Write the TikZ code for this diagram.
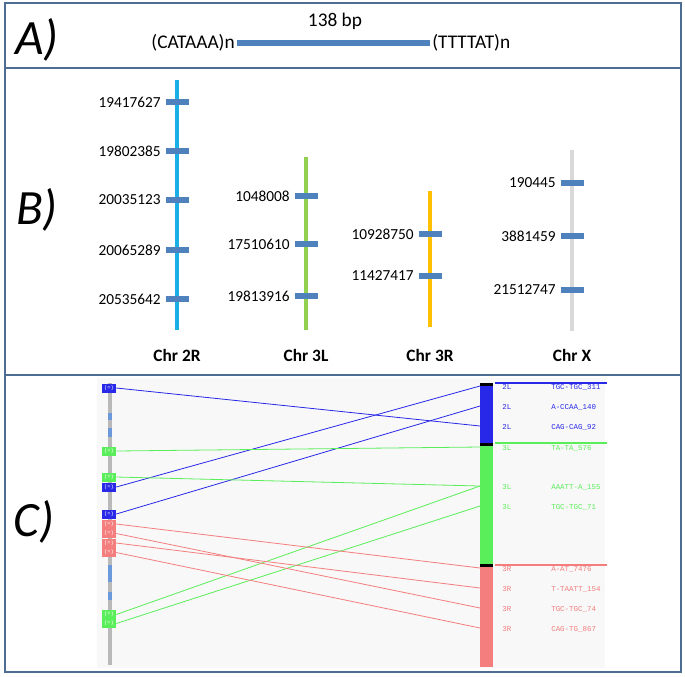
\documentclass[tikz,border=0pt]{standalone}
\usepackage{fontspec}
\setmainfont{Carlito}
\setmonofont{Liberation Mono}
\definecolor{frameblue}{HTML}{4F6D93}
\definecolor{tickblue}{HTML}{4F81BD}
\definecolor{chrcyan}{HTML}{1AAFE6}
\definecolor{chrgreen}{HTML}{92D050}
\definecolor{chrorange}{HTML}{FFC000}
\definecolor{chrgray}{HTML}{D9D9D9}
\definecolor{mapblue}{HTML}{2828E8}
\definecolor{mapgreen}{HTML}{5AEE5A}
\definecolor{mapred}{HTML}{F47E7E}
\definecolor{mapbg}{HTML}{F8F8F8}
\definecolor{dashblue}{HTML}{6C98DC}
\tikzset{
  panellabel/.style={font=\fontsize{37}{37}\selectfont\itshape},
  mapbox/.style={minimum width=10.5pt, minimum height=6.75pt, text=white, font=\fontsize{4}{4}\ttfamily},
  maptext/.style={anchor=west, font=\fontsize{5.6}{6}\ttfamily}
}
\begin{document}
\begin{tikzpicture}[x=0.75pt, y=-0.75pt, every node/.style={inner sep=0pt, font=\fontsize{11.5}{13}\selectfont}]
  \useasboundingbox (0,0) rectangle (685,676);
  % frame and panel rules
  \draw[frameblue, line width=1.5pt] (5,3) rectangle (681,672);
  \draw[frameblue, line width=1.5pt] (5,68) -- (681,68);
  \draw[frameblue, line width=1.5pt] (5,375) -- (681,375);
  \node[panellabel] (labA) at (37,40) {A)};
  \node[panellabel] (labB) at (37,210) {B)};
  \node[panellabel] (labC) at (34,522) {C)};
  % A: the repeat unit
  \node[font=\fontsize{14.5}{16}\selectfont] (bp) at (335,21) {138 bp};
  \node[font=\fontsize{14.5}{16}\selectfont, anchor=east] (flankL) at (235,43) {(CATAAA)n};
  \node[font=\fontsize{14.5}{16}\selectfont, anchor=west] (flankR) at (432,43) {(TTTTAT)n};
  \draw[tickblue, line width=4pt] ([xshift=1.5pt]flankL.east) -- ([xshift=-1.5pt]flankR.west);
  % B: chromosome arms
  \foreach \x/\top/\bot/\col/\name in {177/80/330/chrcyan/Chr 2R, 306/157/330/chrgreen/Chr 3L,
      430/191/327/chrorange/Chr 3R, 572/150/331/chrgray/Chr X} {
    \draw[\col, line width=3pt] (\x,\top) -- (\x,\bot);
    \node[font=\fontsize{13}{15}\selectfont\bfseries] (arm-\x) at (\x,355) {\name};
  }
  % insertion sites
  \foreach \x/\y/\lbl in {177/102/19417627, 177/151/19802385, 177/200/20035123, 177/250/20065289,
      177/299/20535642, 306/196/1048008, 306/244/17510610, 306/296/19813916,
      430/234/10928750, 430/276/11427417, 572/183/190445, 572/236/3881459, 572/290/21512747} {
    \draw[tickblue, line width=4pt] (\x-11.5,\y) -- (\x+11.5,\y);
    \node[anchor=east] (site-\lbl) at (\x-16,\y) {\lbl};
  }
  % C: map view
  \fill[mapbg] (97,378) rectangle (605,668);
  \draw[gray!55, line width=3pt] (110,383) -- (110,665);
  \foreach \a/\b in {413/420, 428/437, 565/582, 592/600}
    \draw[dashblue, line width=3pt] (110,\a) -- (110,\b);
  \foreach \y/\col/\id in {388/mapblue/b1, 487/mapblue/b2, 514/mapblue/b3, 451/mapgreen/g1,
      477/mapgreen/g2, 614.5/mapgreen/g3, 623.5/mapgreen/g4, 524/mapred/r1, 533.5/mapred/r2,
      543/mapred/r3, 552.5/mapred/r4}
    \node[mapbox, fill=\col] (\id) at (109,\y) {(=)};
  % right chromosome
  \fill[mapblue] (480,384) rectangle (493,444);
  \fill[mapgreen] (480,444) rectangle (493,565);
  \fill[mapred] (480,565) rectangle (493,667);
  \foreach \y in {384,444,565} \fill[black] (480,\y-1.5) rectangle (493,\y+1.5);
  \foreach \y/\col in {383/mapblue, 443/mapgreen, 565/mapred}
    \draw[\col, line width=1.5pt] (495,\y) -- (607,\y);
  \foreach \y/\col/\arm/\rep/\id in {387/mapblue/2L/TGC-TGC\_311/t1, 407/mapblue/2L/A-CCAA\_140/t2,
      427/mapblue/2L/CAG-CAG\_92/t3, 448/mapgreen/3L/TA-TA\_576/t4, 487/mapgreen/3L/AAATT-A\_155/t5,
      507/mapgreen/3L/TGC-TGC\_71/t6, 569/mapred/3R/A-AT\_7476/u1, 589/mapred/3R/T-TAATT\_154/u2,
      609/mapred/3R/TGC-TGC\_74/u3, 629/mapred/3R/CAG-TG\_867/u4} {
    \coordinate (\id) at (480,\y-1);
    \node[maptext, text=\col] (arm-\id) at (502,\y) {\arm};
    \node[maptext, text=\col] (rep-\id) at (551,\y) {\rep};
  }
  % links between the two maps
  \foreach \a/\b/\col in {b1/t3/mapblue, b2/t1/mapblue, b3/t2/mapblue, g1/t4/mapgreen, g2/t5/mapgreen,
      g3/t5/mapgreen, g4/t6/mapgreen, r1/u1/mapred, r2/u3/mapred, r3/u2/mapred, r4/u4/mapred}
    \draw[\col, line width=0.6pt] (\a.east) -- (\b);
\end{tikzpicture}
\end{document}
